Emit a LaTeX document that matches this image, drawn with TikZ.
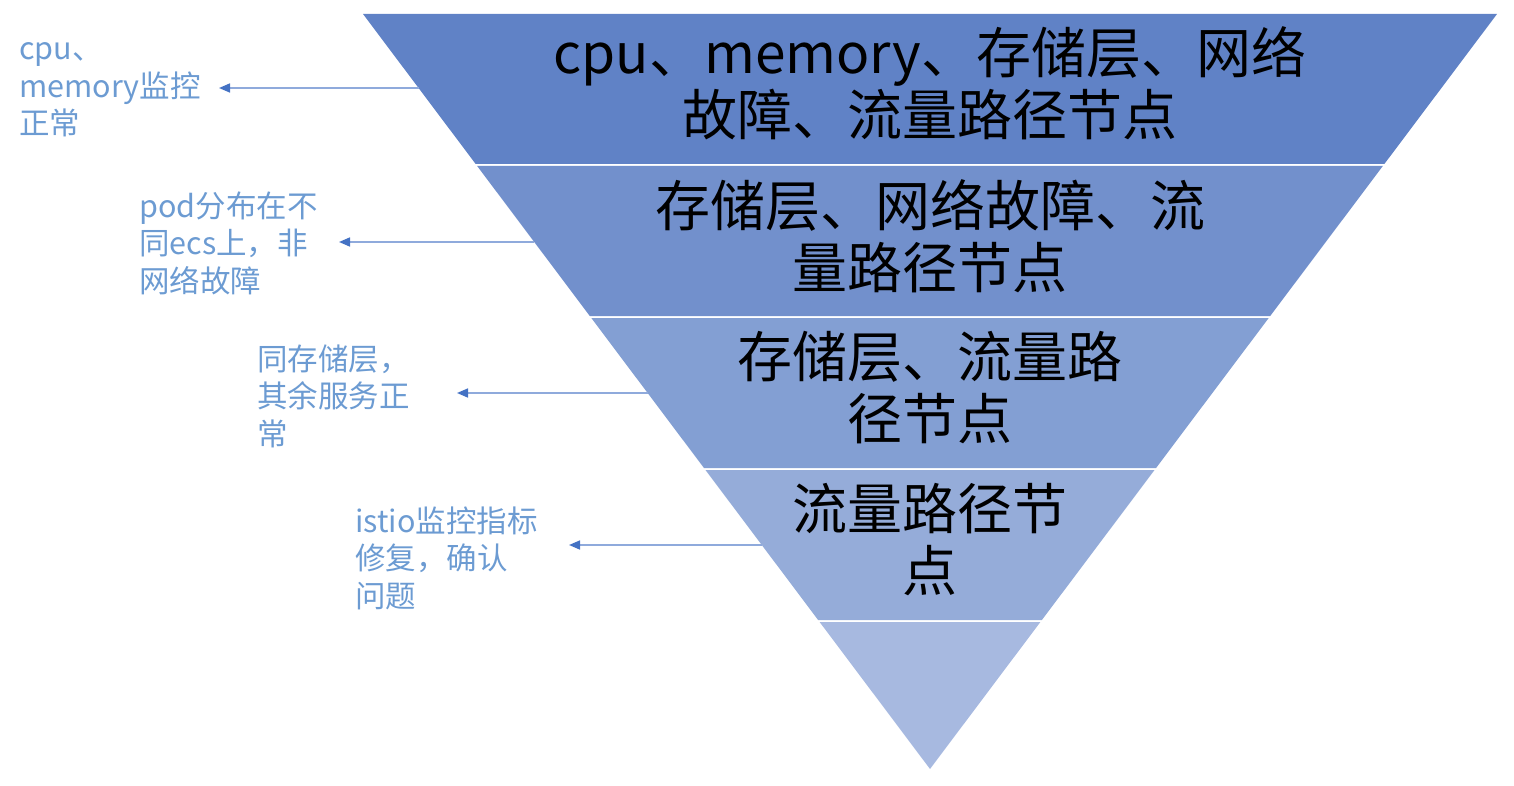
\documentclass[tikz,border=0pt]{standalone}
\usepackage{fontspec}
\setmainfont{Noto Sans CJK SC}
\usetikzlibrary{arrows.meta}
\definecolor{bandA}{RGB}{96,130,198}
\definecolor{bandB}{RGB}{114,144,204}
\definecolor{bandC}{RGB}{131,159,211}
\definecolor{bandD}{RGB}{149,172,217}
\definecolor{bandE}{RGB}{167,185,224}
\definecolor{labelc}{RGB}{108,155,210}
\definecolor{linec}{RGB}{143,170,220}
\definecolor{tipc}{RGB}{68,114,196}
\tikzset{
  bigtext/.style={font=\fontsize{55}{62}\selectfont, align=center, text=black, inner sep=0pt},
  sidelabel/.style={font=\fontsize{30.5}{37.5}\selectfont, align=left, text=labelc, anchor=west, inner sep=0pt},
  pointer/.style={draw=linec, line width=1.6pt, -{Triangle[length=11pt,width=9pt,color=tipc]}},
}
\begin{document}
\begin{tikzpicture}[x=1pt,y=-1pt]
\useasboundingbox (0,0) rectangle (1514,786);
% triangle geometry: top y=14 from x=363 to 1497, apex (930,769); slope 0.751
\fill[bandA] (363,14) -- (1497,14) -- ({1497-(164-14)*0.751},164) -- ({363+(164-14)*0.751},164) -- cycle;
\fill[bandB] ({363+(166-14)*0.751},166) -- ({1497-(166-14)*0.751},166) -- ({1497-(316-14)*0.751},316) -- ({363+(316-14)*0.751},316) -- cycle;
\fill[bandC] ({363+(318-14)*0.751},318) -- ({1497-(318-14)*0.751},318) -- ({1497-(468-14)*0.751},468) -- ({363+(468-14)*0.751},468) -- cycle;
\fill[bandD] ({363+(470-14)*0.751},470) -- ({1497-(470-14)*0.751},470) -- ({1497-(620-14)*0.751},620) -- ({363+(620-14)*0.751},620) -- cycle;
\fill[bandE] ({363+(622-14)*0.751},622) -- ({1497-(622-14)*0.751},622) -- (930,769) -- cycle;

\node[bigtext] (t1) at (930,83) {cpu、memory、存储层、网络\\故障、流量路径节点};
\node[bigtext] (t2) at (930,236) {存储层、网络故障、流\\量路径节点};
\node[bigtext] (t3) at (930,388) {存储层、流量路\\径节点};
\node[bigtext] (t4) at (930,540) {流量路径节\\点};

\node[sidelabel] (l1) at (19,90) {cpu、\\memory监控\\正常};
\node[sidelabel] (l2) at (139,243) {pod分布在不\\同ecs上，非\\网络故障};
\node[sidelabel] (l3) at (257,396) {同存储层，\\其余服务正\\常};
\node[sidelabel] (l4) at (355,558) {istio监控指标\\修复，确认\\问题};

\coordinate (e1) at ({363+(88-14)*0.751},88);
\coordinate (e2) at ({363+(242-14)*0.751},242);
\coordinate (e3) at ({363+(393-14)*0.751},393);
\coordinate (e4) at ({363+(545-14)*0.751},545);
\coordinate (p1) at (219,88);
\coordinate (p2) at (339,242);
\coordinate (p3) at (457,393);
\coordinate (p4) at (569,545);
\draw[pointer] (e1) -- (p1);
\draw[pointer] (e2) -- (p2);
\draw[pointer] (e3) -- (p3);
\draw[pointer] (e4) -- (p4);
\end{tikzpicture}
\end{document}
